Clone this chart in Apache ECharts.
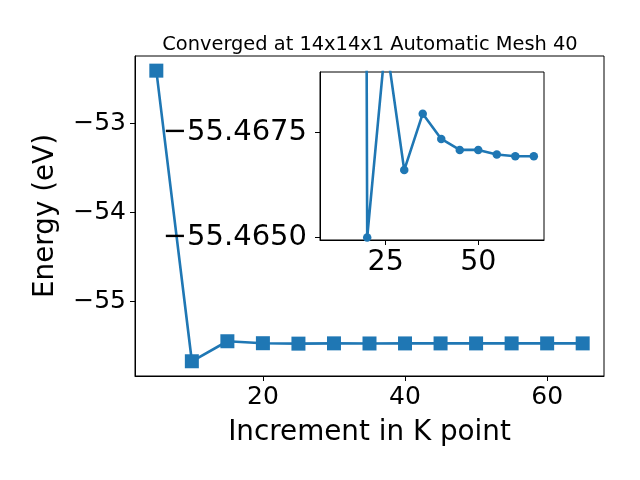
<!DOCTYPE html>
<html><head><meta charset="utf-8">
<script src="https://cdn.jsdelivr.net/npm/echarts@6/dist/echarts.min.js"></script>
<style>html,body{margin:0;padding:0;background:#fff}#c{width:640px;height:480px}</style>
</head><body><div id="c"></div>
<script>
// Main chart data
const kPoints = [5, 10, 15, 20, 25, 30, 35, 40, 45, 50, 55, 60, 65];
const energies = [-52.414, -55.667, -55.443, -55.4650, -55.4697, -55.4666, -55.4679, -55.4673, -55.4671, -55.4671, -55.46697, -55.46693, -55.46693];
// Inset data (zoomed view)
const insetK = [15, 20, 25, 30, 35, 40, 45, 50, 55, 60, 65];
const insetE = [-55.6, -55.4650, -55.4697, -55.4666, -55.46794, -55.46734, -55.46708, -55.46708, -55.46697, -55.46693, -55.46693];
// Tick labels
const xTicks = [20, 40, 60];
const yTicks = [-55, -54, -53];
const insetXTicks = [25, 50];
const insetYTicks = [-55.4675, -55.4650];

const FONT = 'DejaVu Sans';
const minus = s => String(s).replace('-', '\u2212');
const blue = '#1f77b4';

const chart = echarts.init(document.getElementById('c'), null, {renderer: 'canvas'});
chart.setOption({
  animation: false,
  backgroundColor: '#fff',
  title: {
    text: 'Converged at 14x14x1 Automatic Mesh 40',
    left: 365, top: 30, textAlign: 'center',
    textStyle: {fontFamily: FONT, fontSize: 19.4, fontWeight: 'normal', color: '#000'}
  },
  grid: [
    {left: 135, top: 56, width: 469, height: 320, show: true, borderColor: '#000', borderWidth: 1, backgroundColor: 'transparent', containLabel: false},
    {left: 320, top: 72, width: 224, height: 168, show: true, borderColor: '#000', borderWidth: 1, backgroundColor: '#fff', containLabel: false, z: 5}
  ],
  xAxis: [
    {
      type: 'value', gridIndex: 0, min: 2, max: 68,
      name: 'Increment in K point', nameLocation: 'middle', nameGap: 43,
      nameTextStyle: {fontFamily: FONT, fontSize: 27.8, color: '#000'},
      axisLine: {show: true, lineStyle: {color: '#000', width: 1}},
      axisTick: {show: true, length: 5, lineStyle: {color: '#000'}, customValues: xTicks},
      axisLabel: {show: true, margin: 9, fontFamily: FONT, fontSize: 25, color: '#000', customValues: xTicks, formatter: v => minus(v)},
      splitLine: {show: false}
    },
    {
      type: 'value', gridIndex: 1, min: 7.25, max: 67.75,
      axisLine: {show: true, lineStyle: {color: '#000', width: 1}},
      axisTick: {show: true, length: 5, lineStyle: {color: '#000'}, customValues: insetXTicks},
      axisLabel: {show: true, margin: 8, fontFamily: FONT, fontSize: 28.5, color: '#000', customValues: insetXTicks, formatter: v => minus(v)},
      splitLine: {show: false}, z: 6
    }
  ],
  yAxis: [
    {
      type: 'value', gridIndex: 0, min: -55.832, max: -52.25,
      name: 'Energy (eV)', nameLocation: 'middle', nameGap: 75, nameRotate: 90,
      nameTextStyle: {fontFamily: FONT, fontSize: 27.8, color: '#000'},
      axisLine: {show: true, lineStyle: {color: '#000', width: 1}},
      axisTick: {show: true, length: 5, lineStyle: {color: '#000'}, customValues: yTicks},
      axisLabel: {show: true, margin: 9, fontFamily: FONT, fontSize: 25, color: '#000', customValues: yTicks, formatter: v => minus(v)},
      splitLine: {show: false}
    },
    {
      type: 'value', gridIndex: 1, inverse: true, min: -55.46893, max: -55.46494,
      axisLine: {show: true, lineStyle: {color: '#000', width: 1}},
      axisTick: {show: true, length: 5, lineStyle: {color: '#000'}, customValues: insetYTicks},
      axisLabel: {show: true, margin: 13, fontFamily: FONT, fontSize: 29, color: '#000', customValues: insetYTicks, formatter: v => minus(Number(v).toFixed(4))},
      splitLine: {show: false}, z: 6
    }
  ],
  series: [
    {
      type: 'line', xAxisIndex: 0, yAxisIndex: 0,
      data: kPoints.map((k, i) => [k, energies[i]]),
      symbol: 'rect', symbolSize: 14,
      lineStyle: {color: blue, width: 2.6},
      itemStyle: {color: blue},
      z: 2
    },
    {
      type: 'line', xAxisIndex: 1, yAxisIndex: 1, clip: true,
      data: insetK.map((k, i) => [k, insetE[i]]),
      symbol: 'circle', symbolSize: 8.5,
      lineStyle: {color: blue, width: 2.6},
      itemStyle: {color: blue},
      z: 7
    }
  ]
});
</script></body></html>
